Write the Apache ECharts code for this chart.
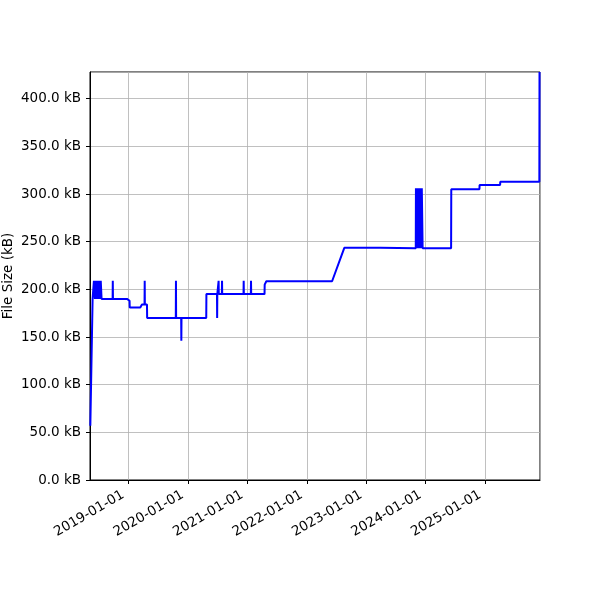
<!DOCTYPE html>
<html>
<head>
<meta charset="utf-8">
<script src="https://cdn.jsdelivr.net/npm/echarts@6/dist/echarts.min.js"></script>
<style>html,body{margin:0;padding:0;background:#fff}#c{width:600px;height:600px}</style>
</head>
<body>
<div id="c"></div>
<script>
const dates = [
  '2018-05-12','2018-05-26','2018-06-02','2018-06-03','2018-06-08','2018-06-09','2018-06-12','2018-06-19',
  '2018-06-22','2018-06-29','2018-06-30','2018-07-03','2018-07-10','2018-07-12','2018-07-15','2018-07-19',
  '2018-07-20','2018-09-26','2018-09-27','2018-09-28','2018-12-23','2018-12-24','2019-01-08','2019-01-09',
  '2019-03-15','2019-03-25','2019-04-10','2019-04-11','2019-04-12','2019-04-25','2019-04-26','2019-10-19',
  '2019-10-20','2019-10-21','2019-11-21','2019-11-22','2019-11-23','2020-04-23','2020-04-24','2020-06-28',
  '2020-06-29','2020-06-30','2020-07-07','2020-07-08','2020-07-09','2020-07-28','2020-07-29','2020-07-30',
  '2020-12-08','2020-12-09','2020-12-10','2021-01-22','2021-01-23','2021-01-24','2021-04-16','2021-04-17',
  '2021-04-26','2021-04-27','2022-06-05','2022-08-19','2023-03-28','2023-03-29','2023-11-01','2023-11-02',
  '2023-11-05','2023-11-08','2023-11-11','2023-11-14','2023-11-17','2023-11-20','2023-11-23','2023-11-26',
  '2023-11-29','2023-12-02','2023-12-05','2023-12-08','2023-12-11','2023-12-13','2024-06-05','2024-06-06',
  '2024-11-26','2024-11-27','2025-04-02','2025-04-03','2025-11-29','2025-11-30'
];
const sizesKB = [
  57, 190, 190, 209, 209, 190, 209, 190,
  209, 209, 190, 209, 209, 190, 209, 209,
  190, 190, 209, 190, 190, 188, 188, 181,
  181, 184, 184, 209, 184, 184, 170, 170,
  209, 170, 170, 146, 170, 170, 195, 195,
  170, 195, 195, 209, 195, 195, 209, 195,
  195, 209, 195, 195, 209, 195, 195, 205,
  205, 208.5, 208.5, 243.6, 243.6, 243.0, 243, 306,
  243, 306, 243, 306, 243, 306, 243, 306,
  243, 306, 243, 306, 306, 243, 243, 305,
  305, 309.4, 309.4, 312.8, 312.8, 428
];
const xMin = '2018-05-10';
const xMax = '2025-12-03';
const yMax = 428;
const yLabel = 'File Size (kB)';

const font = 'DejaVu Sans';
const fs = 13.5;
const chart = echarts.init(document.getElementById('c'), null, {renderer: 'canvas'});
chart.setOption({
  animation: false,
  backgroundColor: '#fff',
  grid: {left: 90, right: 60, top: 72, bottom: 120, containLabel: false, outerBoundsMode: 'none',
         show: true, borderColor: '#000', borderWidth: 1, backgroundColor: 'transparent'},
  xAxis: {
    type: 'time',
    min: xMin,
    max: xMax,
    minInterval: 365 * 24 * 3600 * 1000,
    maxInterval: 366 * 24 * 3600 * 1000,
    axisLine: {show: true, lineStyle: {color: '#000', width: 1}},
    axisTick: {show: true, length: 4, lineStyle: {color: '#000', width: 1}},
    splitLine: {show: true, lineStyle: {color: '#b0b0b0', width: 0.8}},
    axisLabel: {
      rotate: 30, margin: 11, padding: [0, 6, 0, 0], color: '#000', fontFamily: font, fontSize: fs,
      formatter: '{yyyy}-{MM}-{dd}', showMinLabel: false, showMaxLabel: false
    }
  },
  yAxis: {
    type: 'value',
    min: 0,
    max: yMax,
    interval: 50,
    name: yLabel,
    nameLocation: 'middle',
    nameRotate: 90,
    nameGap: 75,
    nameMoveOverlap: false,
    nameTextStyle: {color: '#000', fontFamily: font, fontSize: fs},
    axisLine: {show: true, lineStyle: {color: '#000', width: 1}},
    axisTick: {show: true, length: 4, lineStyle: {color: '#000', width: 1}},
    splitLine: {show: true, lineStyle: {color: '#b0b0b0', width: 0.8}},
    axisLabel: {
      margin: 9, color: '#000', fontFamily: font, fontSize: fs,
      formatter: v => v.toFixed(1) + ' kB', showMaxLabel: false
    }
  },
  series: [{
    type: 'line',
    data: dates.map((d, i) => [d, sizesKB[i]]),
    showSymbol: false,
    symbol: 'none',
    lineStyle: {color: '#0000ff', width: 2},
    clip: true
  }]
});
</script>
</body>
</html>
